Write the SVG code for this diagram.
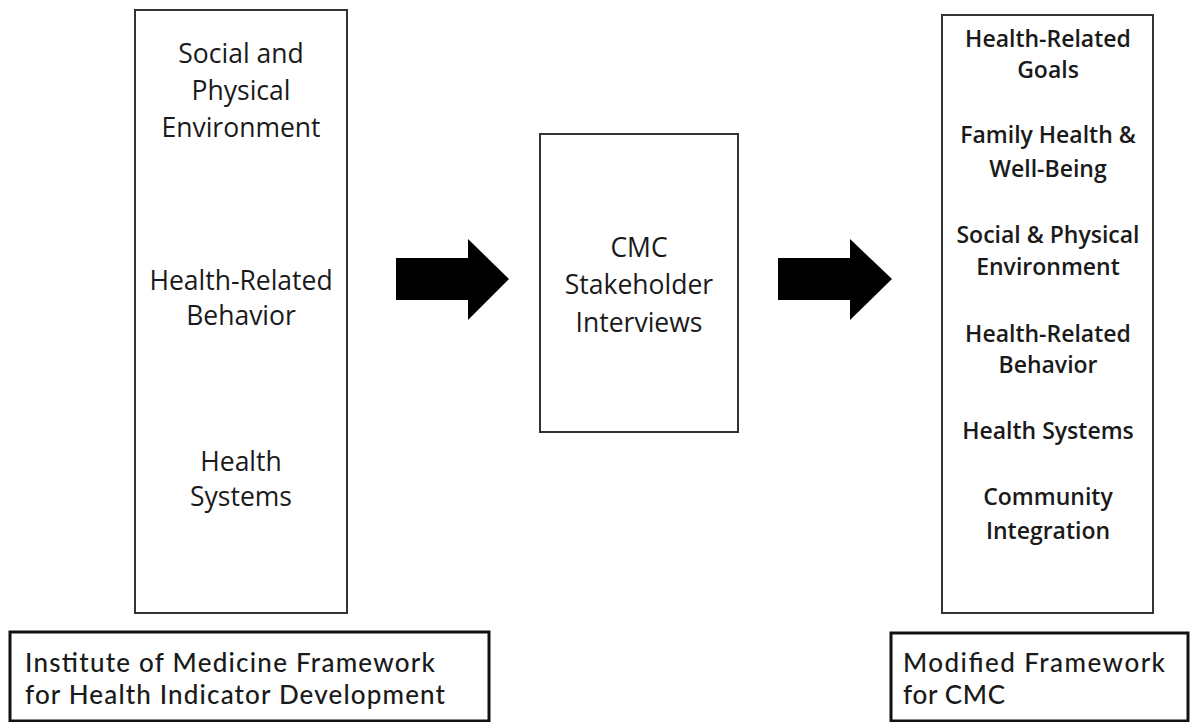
<svg xmlns="http://www.w3.org/2000/svg" width="1191" height="722" viewBox="0 0 1191 722">
<style>
.box{fill:#fff;stroke:#333;stroke-width:2}
.lbl{fill:#fff;stroke:#111;stroke-width:3}
.t{font-family:"Open Sans","Noto Sans","Liberation Sans",sans-serif;fill:#1a1a1a;font-size:26.5px;font-weight:500;text-anchor:middle}
.tb{font-family:"Open Sans","Noto Sans","Liberation Sans",sans-serif;fill:#1a1a1a;font-size:23px;font-weight:600;text-anchor:middle}
.tl{font-family:Lato,"Open Sans","Liberation Sans",sans-serif;fill:#1a1a1a;font-size:26px;font-weight:500}
.arr{fill:#000}
</style>
<rect width="1191" height="722" fill="#fff"/>
<g id="iom-box">
<rect class="box" x="135" y="10" width="212" height="603"/>
<text class="t" x="241" y="63">Social and</text>
<text class="t" x="241" y="100">Physical</text>
<text class="t" x="241" y="137">Environment</text>
<text class="t" x="241" y="290">Health-Related</text>
<text class="t" x="241" y="325">Behavior</text>
<text class="t" x="241" y="471">Health</text>
<text class="t" x="241" y="506">Systems</text>
</g>
<g id="cmc-box">
<rect class="box" x="540" y="134" width="198" height="298"/>
<text class="t" x="639" y="257">CMC</text>
<text class="t" x="639" y="294">Stakeholder</text>
<text class="t" x="639" y="332">Interviews</text>
</g>
<g id="modified-box">
<rect class="box" x="942" y="15" width="211" height="598"/>
<text class="tb" x="1048" y="47">Health-Related</text>
<text class="tb" x="1048" y="78">Goals</text>
<text class="tb" x="1048" y="143">Family Health &amp;</text>
<text class="tb" x="1048" y="177">Well-Being</text>
<text class="tb" x="1048" y="243">Social &amp; Physical</text>
<text class="tb" x="1048" y="275">Environment</text>
<text class="tb" x="1048" y="342">Health-Related</text>
<text class="tb" x="1048" y="373">Behavior</text>
<text class="tb" x="1048" y="439">Health Systems</text>
<text class="tb" x="1048" y="505">Community</text>
<text class="tb" x="1048" y="539">Integration</text>
</g>
<g id="iom-label">
<rect class="lbl" x="10" y="632" width="479" height="89"/>
<text class="tl" x="25" y="672" textLength="410" lengthAdjust="spacing">Institute of Medicine Framework</text>
<text class="tl" x="25" y="704" textLength="420" lengthAdjust="spacing">for Health Indicator Development</text>
</g>
<g id="modified-label">
<rect class="lbl" x="891" y="633" width="297" height="88"/>
<text class="tl" x="903" y="672" textLength="262" lengthAdjust="spacing">Modified Framework</text>
<text class="tl" x="903" y="704" textLength="102" lengthAdjust="spacing">for CMC</text>
</g>
<g id="connectors">
<polygon class="arr" points="396,258 468,258 468,239 509,279 468,320 468,300 396,300"/>
<polygon class="arr" points="778,258 850,258 850,239 892,279 850,320 850,300 778,300"/>
</g>
</svg>
